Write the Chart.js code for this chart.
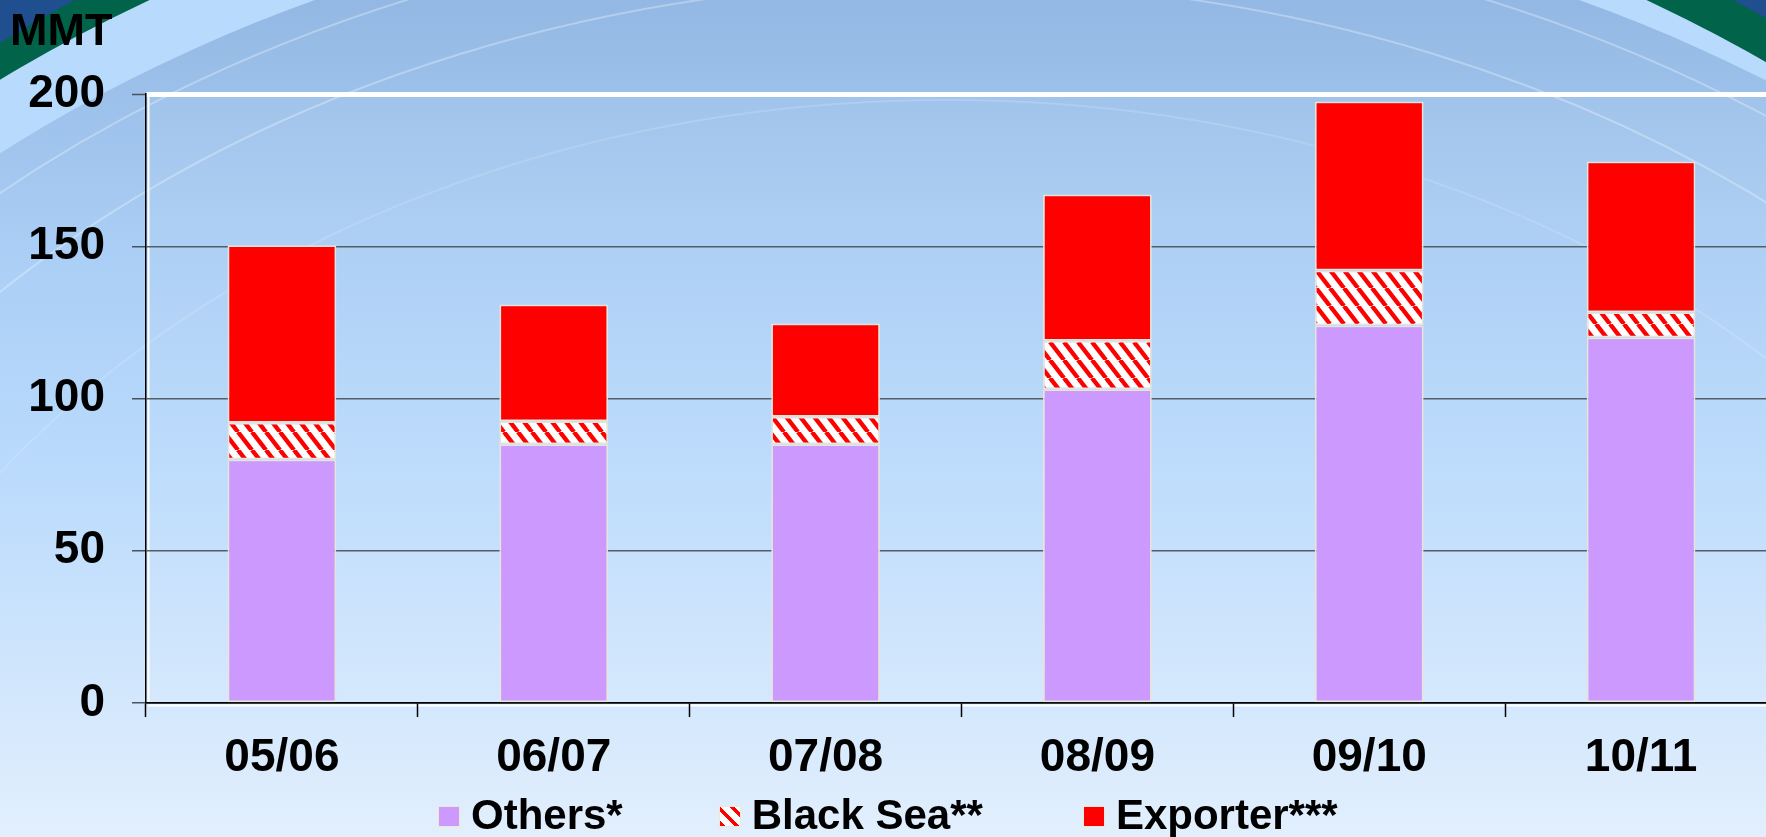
<!DOCTYPE html>
<html><head><meta charset="utf-8">
<script src="https://cdn.jsdelivr.net/npm/chart.js@4/dist/chart.umd.min.js"></script>
<style>
html,body{margin:0;padding:0;overflow:hidden;width:1766px;height:837px;background:#cfe4fb;}
#wrap{position:relative;width:1790px;height:837px;}
#c{position:absolute;left:0;top:0;}
.txt{font-family:"Liberation Sans",Arial,sans-serif;font-weight:bold;color:#000;}
#mmt{position:absolute;left:10px;top:7px;font-size:45px;line-height:45px;}
#legend{position:absolute;left:438px;top:794px;display:flex;font-size:42px;line-height:42px;}
.item{display:flex;align-items:flex-start;}
.box{width:22px;height:21px;margin-top:12px;margin-right:11px;box-sizing:border-box;border:1px solid #efe6d6;}
</style>
</head>
<body>
<div id="wrap">
<canvas id="c" width="1790" height="837"></canvas>
<div id="mmt" class="txt">MMT</div>
<div id="legend" class="txt"></div>
</div>
<script>
// ---- data ----
const categories = ['05/06', '06/07', '07/08', '08/09', '09/10', '10/11'];
const others     = [80, 85, 85, 103, 124, 120];
const blackSea   = [12, 7.5, 9, 16, 18, 8.3];
const exporter   = [58.3, 38.4, 30.6, 48, 55.5, 49.5];
const yTicks     = [0, 50, 100, 150, 200];
const seriesLabels = ['Others*', 'Black Sea**', 'Exporter***'];
const yUnit = 'MMT';

const FONT = '"Liberation Sans", Arial, sans-serif';

function makeHatch() {
  const pw = 14, ph = 18, c = document.createElement('canvas');
  c.width = pw; c.height = ph;
  const g = c.getContext('2d');
  g.fillStyle = '#ffffff'; g.fillRect(0, 0, pw, ph);
  g.strokeStyle = '#ff0000'; g.lineWidth = 4.4;
  for (const x0 of [-pw, 0, pw]) { g.beginPath(); g.moveTo(x0, 0); g.lineTo(x0 + pw, ph); g.stroke(); }
  return g.createPattern(c, 'repeat');
}
const hatch = makeHatch();

const bgPlugin = {
  id: 'bg',
  beforeDraw(chart) {
    const ctx = chart.ctx, W = chart.width, H = chart.height;
    ctx.save();
    ctx.fillStyle = '#1f4f8f'; ctx.fillRect(0, 0, W, H);
    const ell = (cx, rx, ry) => { ctx.beginPath(); ctx.ellipse(cx, 1000, rx, ry, 0, 0, Math.PI * 2); };
    ell(904, 1494, 1202); ctx.fillStyle = '#00634a'; ctx.fill();
    ell(898, 1473, 1161); ctx.fillStyle = '#b8dafc'; ctx.fill();
    const gr = ctx.createLinearGradient(0, 0, 0, H);
    gr.addColorStop(0, '#93b8e3');
    gr.addColorStop(0.3, '#aacef5');
    gr.addColorStop(0.55, '#b9dafc');
    gr.addColorStop(1, '#e2effd');
    ell(947, 1468, 1108); ctx.fillStyle = gr; ctx.fill();
    ctx.lineWidth = 2;
    ctx.strokeStyle = 'rgba(255,255,255,0.3)';
    for (const d of [-45, -150]) { ell(947, 1468 + d, 1108 + d * 0.6); ctx.stroke(); }
    ctx.strokeStyle = 'rgba(255,255,255,0.15)';
    ell(947, 1168, 900); ctx.stroke();
    const a = chart.chartArea;
    ctx.fillStyle = 'rgba(255,255,255,0.06)';
    ctx.fillRect(a.left, a.top, a.right - a.left, a.bottom - a.top);
    // white highlight lines next to axes
    ctx.strokeStyle = '#ffffff'; ctx.lineWidth = 2;
    ctx.beginPath(); ctx.moveTo(a.left + 2.5, a.top); ctx.lineTo(a.left + 2.5, a.bottom); ctx.stroke();
    ctx.beginPath(); ctx.moveTo(a.left + 2, a.bottom + 2.5); ctx.lineTo(a.right, a.bottom + 2.5); ctx.stroke();
    ctx.restore();
  }
};

const barBorder = { borderColor: '#e9e4d8', borderWidth: 1.75, borderSkipped: false };

new Chart(document.getElementById('c'), {
  type: 'bar',
  data: {
    labels: categories,
    datasets: [
      Object.assign({ label: seriesLabels[0], data: others, backgroundColor: '#cc99ff' }, barBorder),
      Object.assign({ label: seriesLabels[1], data: blackSea, backgroundColor: hatch }, barBorder),
      Object.assign({ label: seriesLabels[2], data: exporter, backgroundColor: '#ff0000' }, barBorder)
    ]
  },
  options: {
    responsive: false,
    animation: false,
    devicePixelRatio: 1,
    layout: { padding: { top: 94, right: 13, left: 0, bottom: 0 } },
    plugins: { legend: { display: false }, tooltip: { enabled: false }, title: { display: false } },
    datasets: { bar: { categoryPercentage: 1, barPercentage: 0.4 } },
    scales: {
      x: {
        stacked: true,
        grid: { display: true, drawOnChartArea: false, drawTicks: true, tickLength: 14, tickColor: '#000', tickWidth: 1.5, offset: true },
        border: { display: true, color: '#000', width: 1.5 },
        ticks: { font: { family: FONT, size: 46, weight: 'bold' }, color: '#000', padding: 14, maxRotation: 0, autoSkip: false },
        afterFit(s) { s.height = 134; }
      },
      y: {
        stacked: true, min: 0, max: 200,
        afterBuildTicks(s) { s.ticks = yTicks.map(v => ({ value: v })); },
        grid: {
          color: c => (c.tick && c.tick.value === 200) ? '#ffffff' : (c.tick && c.tick.value === 0 ? '#000000' : '#555d67'),
          lineWidth: c => (c.tick && c.tick.value === 200) ? 5 : 1.5,
          tickLength: 14, tickColor: '#4a525c', tickWidth: 1.5
        },
        border: { display: true, color: '#000', width: 1.5 },
        ticks: { font: { family: FONT, size: 46, weight: 'bold' }, color: '#000', padding: 27 },
        afterFit(s) { s.width = 146; }
      }
    }
  },
  plugins: [bgPlugin]
});

// HTML legend built from the series
document.getElementById('mmt').textContent = yUnit;
const legendBg = ['#cc99ff',
  'repeating-linear-gradient(45deg, #ff0000 0px, #ff0000 4px, #ffffff 4px, #ffffff 10px)',
  '#ff0000'];
const legendGap = [0, 96, 100];
const leg = document.getElementById('legend');
seriesLabels.forEach((lab, i) => {
  const it = document.createElement('div'); it.className = 'item';
  it.style.marginLeft = legendGap[i] + 'px';
  const b = document.createElement('div'); b.className = 'box'; b.style.background = legendBg[i];
  const t = document.createElement('span'); t.textContent = lab;
  it.appendChild(b); it.appendChild(t); leg.appendChild(it);
});
</script>
</body></html>
